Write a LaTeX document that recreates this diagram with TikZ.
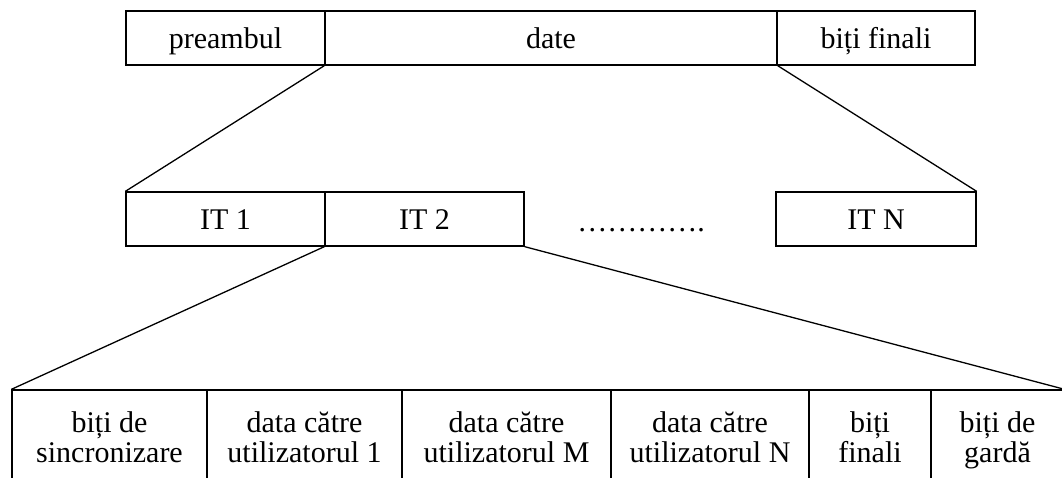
\documentclass[tikz,border=0pt]{standalone}
\usepackage{fontspec}
\setmainfont{Liberation Serif}
\newcommand{\twoline}[2]{\rule{0pt}{21pt}#1\\#2\rule[-7pt]{0pt}{7pt}}
\begin{document}
\begin{tikzpicture}[x=1pt,y=-1pt,line width=1.3pt,
  txt/.style={font=\fontsize{30}{30}\selectfont},
  cell/.style={txt,draw,rectangle,inner sep=0pt,minimum height=54pt,text height=26.6pt,text depth=4.7pt},
  lowcell/.style={txt,draw,rectangle,inner sep=0pt,minimum height=100pt,align=center}]
\clip (0,0) rectangle (1062,477);
% top row
\node[cell,minimum width=199pt] (pre) at (225.5,38) {preambul};
\node[cell,minimum width=452pt] (date) at (551,38) {date};
\node[cell,minimum width=198pt] (fin) at (876,38) {biți finali};
% middle row
\node[cell,minimum width=199pt] (it1) at (225.5,219) {IT 1};
\node[cell,minimum width=199pt] (it2) at (424.5,219) {IT 2};
\node[txt,anchor=base] (dots) at (641,231) {………….};
\node[cell,minimum width=200pt] (itn) at (876,219) {IT N};
% bottom row
\node[lowcell,minimum width=195pt] (b1) at (109.5,440) {\twoline{biți de}{sincronizare}};
\node[lowcell,minimum width=195pt] (b2) at (304.5,440) {\twoline{data către}{utilizatorul 1}};
\node[lowcell,minimum width=209pt] (b3) at (506.5,440) {\twoline{data către}{utilizatorul M}};
\node[lowcell,minimum width=198pt] (b4) at (710,440) {\twoline{data către}{utilizatorul N}};
\node[lowcell,minimum width=122pt] (b5) at (870,440) {\twoline{biți}{finali}};
\node[lowcell,minimum width=133pt] (b6) at (997.5,440) {\twoline{biți de}{gardă}};
% connectors
\draw (date.south west) -- (it1.north west);
\draw (date.south east) -- (itn.north east);
\draw (it2.south west) -- (b1.north west);
\draw (it2.south east) -- (b6.north east);
\end{tikzpicture}
\end{document}
